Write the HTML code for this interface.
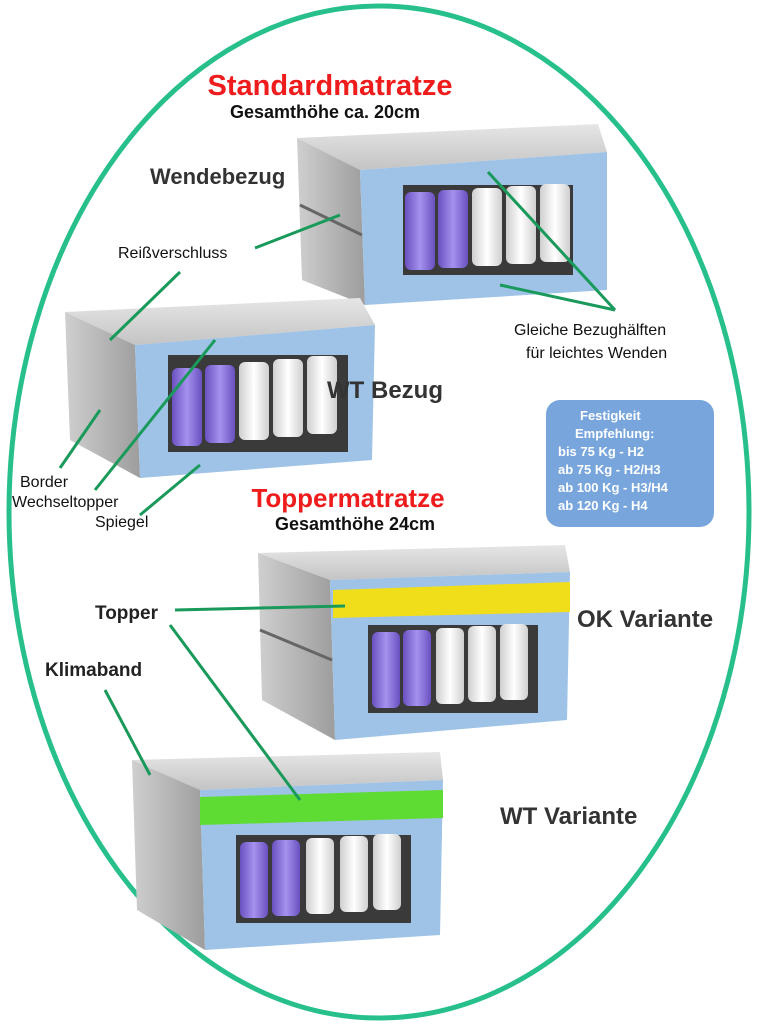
<!DOCTYPE html>
<html><head><meta charset="utf-8"><style>
body{margin:0;background:#fff}
svg{display:block}
text{font-family:"Liberation Sans",sans-serif}
</style></head><body>
<svg width="758" height="1024" viewBox="0 0 758 1024" xmlns="http://www.w3.org/2000/svg">
<defs>
<linearGradient id="pur" x1="0" x2="1"><stop offset="0" stop-color="#6a50c0"/><stop offset=".5" stop-color="#a592ee"/><stop offset="1" stop-color="#6a50c0"/></linearGradient>
<linearGradient id="wht" x1="0" x2="1"><stop offset="0" stop-color="#cfcfcf"/><stop offset=".5" stop-color="#fff"/><stop offset="1" stop-color="#cfcfcf"/></linearGradient>
<linearGradient id="top" x1="0" y1="0" x2="0" y2="1"><stop offset="0" stop-color="#e6e6e6"/><stop offset="1" stop-color="#c4c4c4"/></linearGradient>
<linearGradient id="side" x1="0" x2="1"><stop offset="0" stop-color="#cfcfcf"/><stop offset="1" stop-color="#9d9d9d"/></linearGradient>
</defs>
<rect width="758" height="1024" fill="#fff"/>
<ellipse cx="379" cy="512" rx="370" ry="506" fill="none" stroke="#27c08b" stroke-width="5"/>

<!-- Mattress 1 -->
<polygon points="297,138 598,124 607,152 360,170" fill="url(#top)"/>
<polygon points="297,138 360,170 365,305 302,280" fill="url(#side)"/>
<line x1="300" y1="205" x2="362" y2="235" stroke="#666" stroke-width="3"/>
<polygon points="360,170 607,152 607,290 365,305" fill="#9ec3e6"/>
<rect x="403" y="185" width="170" height="90" fill="#3a3a3a"/>
<rect x="405" y="192" width="30" height="78" rx="6" fill="url(#pur)"/>
<rect x="438" y="190" width="30" height="78" rx="6" fill="url(#pur)"/>
<rect x="472" y="188" width="30" height="78" rx="6" fill="url(#wht)"/>
<rect x="506" y="186" width="30" height="78" rx="6" fill="url(#wht)"/>
<rect x="540" y="184" width="30" height="78" rx="6" fill="url(#wht)"/>

<!-- Mattress 2 -->
<polygon points="65,312 360,298 375,325 135,345" fill="url(#top)"/>
<polygon points="65,312 135,345 140,478 70,440" fill="url(#side)"/>
<polygon points="135,345 375,325 372,460 140,478" fill="#9ec3e6"/>
<rect x="168" y="355" width="180" height="97" fill="#3a3a3a"/>
<rect x="172" y="368" width="30" height="78" rx="6" fill="url(#pur)"/>
<rect x="205" y="365" width="30" height="78" rx="6" fill="url(#pur)"/>
<rect x="239" y="362" width="30" height="78" rx="6" fill="url(#wht)"/>
<rect x="273" y="359" width="30" height="78" rx="6" fill="url(#wht)"/>
<rect x="307" y="356" width="30" height="78" rx="6" fill="url(#wht)"/>

<!-- Mattress 3 -->
<polygon points="258,553 565,545 570,572 330,580" fill="url(#top)"/>
<polygon points="258,553 330,580 335,740 262,700" fill="url(#side)"/>
<line x1="260" y1="630" x2="332" y2="660" stroke="#666" stroke-width="3"/>
<polygon points="330,580 570,572 567,720 335,740" fill="#9ec3e6"/>
<polygon points="333,590 570,582 570,612 333,618" fill="#f1de1a"/>
<rect x="368" y="625" width="170" height="88" fill="#3a3a3a"/>
<rect x="372" y="632" width="28" height="76" rx="6" fill="url(#pur)"/>
<rect x="403" y="630" width="28" height="76" rx="6" fill="url(#pur)"/>
<rect x="436" y="628" width="28" height="76" rx="6" fill="url(#wht)"/>
<rect x="468" y="626" width="28" height="76" rx="6" fill="url(#wht)"/>
<rect x="500" y="624" width="28" height="76" rx="6" fill="url(#wht)"/>

<!-- Mattress 4 -->
<polygon points="132,760 440,752 443,780 200,790" fill="url(#top)"/>
<polygon points="132,760 200,790 205,950 137,910" fill="url(#side)"/>
<polygon points="200,790 443,780 440,935 205,950" fill="#9ec3e6"/>
<polygon points="200,797 443,790 443,818 200,825" fill="#5fdc33"/>
<rect x="236" y="835" width="175" height="88" fill="#3a3a3a"/>
<rect x="240" y="842" width="28" height="76" rx="6" fill="url(#pur)"/>
<rect x="272" y="840" width="28" height="76" rx="6" fill="url(#pur)"/>
<rect x="306" y="838" width="28" height="76" rx="6" fill="url(#wht)"/>
<rect x="340" y="836" width="28" height="76" rx="6" fill="url(#wht)"/>
<rect x="373" y="834" width="28" height="76" rx="6" fill="url(#wht)"/>

<g stroke="#1a9a5a" stroke-width="3" fill="none">
<line x1="255" y1="248" x2="340" y2="215"/>
<line x1="180" y1="272" x2="110" y2="340"/>
<line x1="488" y1="172" x2="615" y2="310"/>
<line x1="500" y1="285" x2="615" y2="310"/>
<line x1="60" y1="468" x2="100" y2="410"/>
<line x1="95" y1="490" x2="215" y2="340"/>
<line x1="140" y1="515" x2="200" y2="465"/>
<line x1="175" y1="610" x2="345" y2="606"/>
<line x1="170" y1="625" x2="300" y2="800"/>
<line x1="105" y1="690" x2="150" y2="775"/>
</g>

<text x="330" y="95" font-size="29" font-weight="bold" fill="#ee1c1c" text-anchor="middle">Standardmatratze</text>
<text x="325" y="118" font-size="18" font-weight="bold" fill="#111" text-anchor="middle">Gesamthöhe ca. 20cm</text>
<text x="150" y="184" font-size="22" font-weight="bold" fill="#333">Wendebezug</text>
<text x="118" y="258" font-size="16" fill="#111">Reißverschluss</text>
<text x="514" y="335" font-size="16" fill="#111">Gleiche Bezughälften</text>
<text x="526" y="358" font-size="16" fill="#111">für leichtes Wenden</text>
<text x="327" y="398" font-size="24" font-weight="bold" fill="#333">WT Bezug</text>
<text x="20" y="487" font-size="16" fill="#111">Border</text>
<text x="12" y="507" font-size="16" fill="#111">Wechseltopper</text>
<text x="95" y="527" font-size="16" fill="#111">Spiegel</text>
<rect x="546" y="400" width="168" height="127" rx="14" fill="#78a6dc"/>
<g font-size="13" font-weight="bold" fill="#fff">
<text x="580" y="420">Festigkeit</text>
<text x="575" y="438">Empfehlung:</text>
<text x="558" y="456">bis 75 Kg  -  H2</text>
<text x="558" y="474">ab  75 Kg  -  H2/H3</text>
<text x="558" y="492">ab  100 Kg - H3/H4</text>
<text x="558" y="510">ab  120 Kg - H4</text>
</g>
<text x="348" y="507" font-size="26" font-weight="bold" fill="#ee1c1c" text-anchor="middle">Toppermatratze</text>
<text x="355" y="530" font-size="18" font-weight="bold" fill="#111" text-anchor="middle">Gesamthöhe  24cm</text>
<text x="95" y="619" font-size="19" font-weight="bold" fill="#222">Topper</text>
<text x="577" y="627" font-size="24" font-weight="bold" fill="#333">OK Variante</text>
<text x="45" y="676" font-size="19" font-weight="bold" fill="#222">Klimaband</text>
<text x="500" y="824" font-size="24" font-weight="bold" fill="#333">WT Variante</text>
</svg>
</body></html>
